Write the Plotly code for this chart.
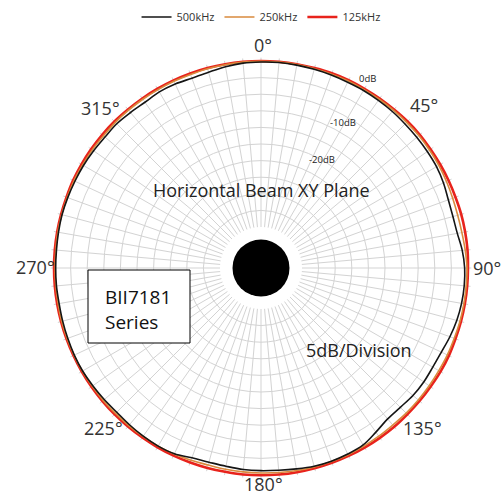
import plotly.graph_objects as go

# ---- data ----
angles = list(range(0, 360, 5)) + [360]

db_500k = [-0.3, -0.2, -0.3, -0.4, -0.5, -0.6, -0.6, -0.7, -0.8, -1.0,
           -1.1, -1.2, -1.3, -1.7, -2.3, -2.5, -2.3, -1.5, -1.0, -0.9,
           -1.0, -1.3, -1.8, -2.4, -2.6, -2.5, -2.6, -3.0, -3.0, -2.0,
           -0.8, -0.5, -0.4, -0.5, -0.9, -1.2, -1.3, -1.4, -1.7, -1.8,
           -1.5, -0.6, -0.4, -0.5, -0.7, -0.9, -0.7, -0.5, -0.3, -0.3,
           -0.4, -0.5, -0.6, -0.5, -0.5, -0.5, -0.4, -0.3, -0.4, -0.5,
           -0.6, -0.8, -1.0, -0.9, -1.2, -1.4, -1.1, -1.2, -1.5, -1.3,
           -0.8, -0.4]
db_500k = db_500k + [db_500k[0]]

db_250k = [-0.1, -0.1, -0.1, -0.2, -0.2, -0.2, -0.3, -0.3, -0.3, -0.3,
           -0.3, -0.4, -0.5, -0.7, -0.9, -1.0, -0.9, -0.6, -0.3, -0.3,
           -0.3, -0.3, -0.4, -0.4, -0.5, -0.5, -0.5, -0.5, -0.6, -0.5,
           -0.4, -0.3, -0.3, -0.3, -0.4, -0.5, -0.6, -0.7, -0.8, -0.9,
           -0.7, -0.5, -0.4, -0.4, -0.4, -0.4, -0.3, -0.3, -0.2, -0.2,
           -0.2, -0.2, -0.3, -0.3, -0.3, -0.3, -0.2, -0.2, -0.2, -0.2,
           -0.3, -0.3, -0.4, -0.3, -0.3, -0.3, -0.3, -0.3, -0.3, -0.2,
           -0.2, -0.1]
db_250k = db_250k + [db_250k[0]]

db_125k = [0.0, 0.0, 0.0, 0.0, 0.1, 0.1, 0.0, 0.0, 0.0, 0.1,
           0.1, 0.0, 0.0, 0.0, 0.0, 0.1, 0.1, 0.1, 0.0, 0.0,
           0.0, 0.0, 0.0, 0.1, 0.1, 0.0, 0.0, 0.0, 0.1, 0.1,
           0.1, 0.1, 0.1, 0.1, 0.1, 0.1, 0.1, 0.1, 0.0, 0.0,
           0.0, 0.0, 0.0, 0.0, 0.0, 0.0, 0.0, 0.0, 0.0, 0.0,
           0.0, 0.0, 0.0, 0.0, 0.0, 0.0, 0.0, 0.0, 0.0, 0.1,
           0.1, 0.1, 0.1, 0.1, 0.0, 0.0, 0.0, 0.0, 0.0, 0.0,
           0.0, 0.0]
db_125k = db_125k + [db_125k[0]]

series_names = ["500kHz", "250kHz", "125kHz"]
angle_ticks = list(range(0, 360, 5))
label_angles = [0, 45, 90, 135, 180, 225, 270, 315]
label_texts = [f"{a}°" for a in label_angles]
ring_ticks = list(range(-45, 1, 5))
db_labels = ["0dB", "-10dB", "-20dB"]

FONT = "Open Sans"
W, H = 502, 498
CX, CY, R = 261, 268, 210.3

fig = go.Figure()
fig.add_trace(go.Scatterpolar(theta=angles, r=db_125k, mode="lines", name=series_names[2],
                              line=dict(color="#e8231c", width=2.6, shape="spline"), legendrank=3))
fig.add_trace(go.Scatterpolar(theta=angles, r=db_250k, mode="lines", name=series_names[1],
                              line=dict(color="#d98a3d", width=1.6, shape="spline"), legendrank=2))
fig.add_trace(go.Scatterpolar(theta=angles, r=db_500k, mode="lines", name=series_names[0],
                              line=dict(color="#151515", width=1.6, shape="spline"), legendrank=1))

dom_x = [(CX - R) / W, (CX + R) / W]
dom_y = [(H - CY - R) / H, (H - CY + R) / H]

fig.update_layout(
    width=W, height=H,
    margin=dict(l=0, r=0, t=0, b=0),
    paper_bgcolor="white",
    font=dict(family=FONT, color="#333"),
    polar=dict(
        domain=dict(x=dom_x, y=dom_y),
        hole=41 / R,
        bgcolor="white",
        radialaxis=dict(range=[-50, 1], tickmode="array", tickvals=ring_ticks,
                        showticklabels=False, ticks="", showline=False,
                        gridcolor="#d3d3d3", gridwidth=1),
        angularaxis=dict(rotation=90, direction="clockwise", tickmode="array",
                         tickvals=angle_ticks, showticklabels=False, ticks="",
                         showline=False, gridcolor="#d3d3d3", gridwidth=1),
    ),
    legend=dict(orientation="h", x=0.52, xanchor="center", y=1 - 17 / H, yanchor="middle",
                font=dict(size=11, color="#333"), bgcolor="rgba(0,0,0,0)"),
    showlegend=True,
)


def note(text, px, py, size, color="#222", xanchor="center"):
    fig.add_annotation(xref="paper", yref="paper", x=px / W, y=(H - py) / H,
                       xanchor=xanchor, yanchor="middle", align="left", showarrow=False,
                       text=text, font=dict(size=size, color=color, family=FONT))


# angle labels
label_pos = [(263, 45), (424, 105), (487, 268), (422, 428),
             (263, 484), (103, 428), (35, 267), (100, 108)]
for txt, (px, py) in zip(label_texts, label_pos):
    note(txt, px, py, 18, "#333")

# black centre dot
rd = 28.5
fig.add_shape(type="circle", xref="paper", yref="paper",
              x0=(CX - rd) / W, x1=(CX + rd) / W,
              y0=(H - CY - rd) / H, y1=(H - CY + rd) / H,
              fillcolor="black", line=dict(color="black", width=0), layer="above")

# text box
fig.add_shape(type="rect", xref="paper", yref="paper",
              x0=88 / W, x1=190 / W, y0=(H - 343) / H, y1=(H - 270) / H,
              fillcolor="white", line=dict(color="black", width=1), layer="above")
note("BII7181<br>Series", 103, 309, 19, "#111", xanchor="left")

note("Horizontal Beam XY Plane", 261, 190, 18)
note("5dB/Division", 359, 350, 18)

for lbl, (px, py) in zip(db_labels, [(367, 79), (343, 123), (322, 159)]):
    note(lbl, px, py, 9.5)

fig.write_html("out.html", post_script="document.body.style.margin='0';",
               config={"displayModeBar": False})
